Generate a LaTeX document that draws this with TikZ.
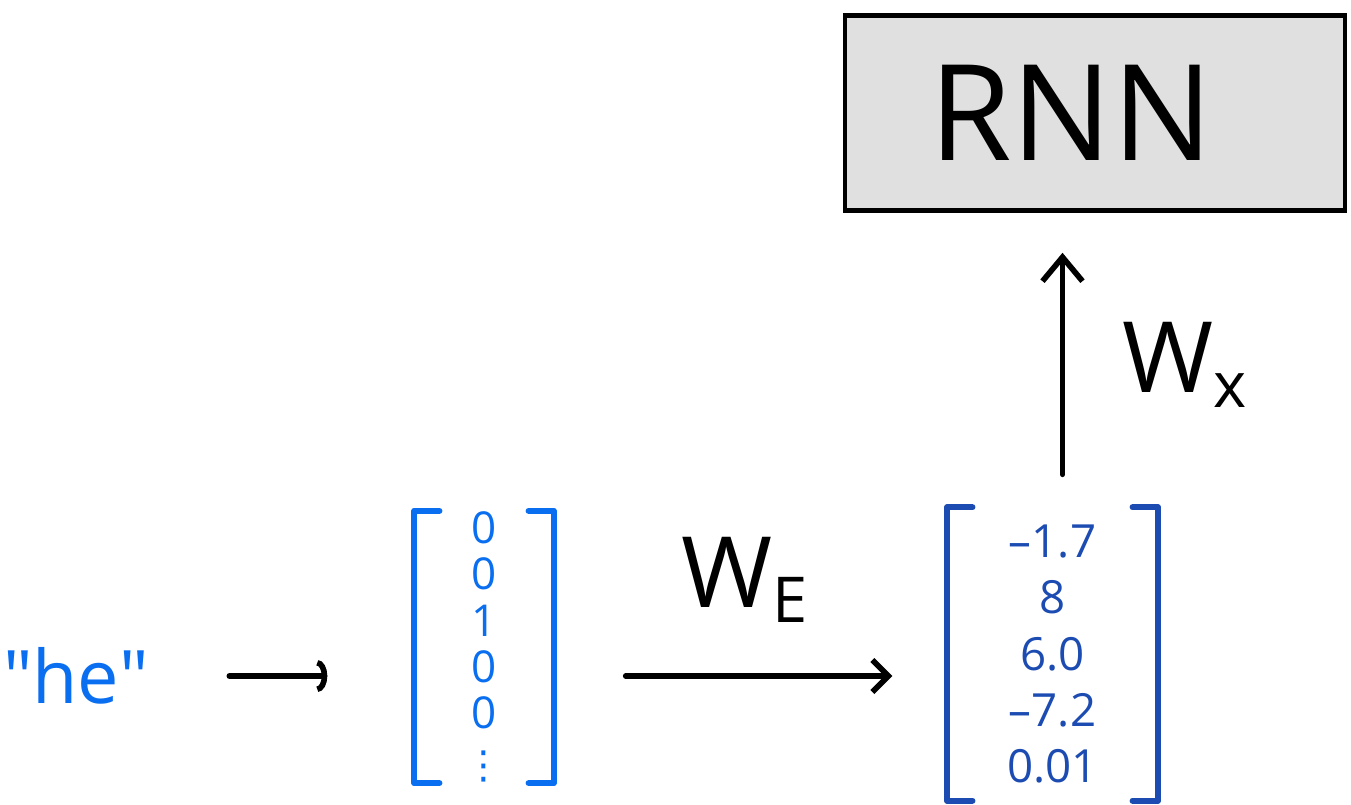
\documentclass[tikz,border=0pt]{standalone}
\usepackage{fontspec}
\setmainfont{Open Sans}
\newfontfamily\dotsfont{DejaVu Sans}
\usetikzlibrary{positioning,arrows.meta,calc}
\definecolor{hotblue}{RGB}{10,110,240}
\definecolor{embblue}{RGB}{28,76,178}
\definecolor{boxgray}{RGB}{224,224,224}

% square brackets drawn round a vector node
\newcommand{\vbrackets}[2]{%
  \draw[brack,#2] ([xshift=2.5mm]#1.north west) -- (#1.north west) -- (#1.south west) -- ([xshift=2.5mm]#1.south west);
  \draw[brack,#2] ([xshift=-2.5mm]#1.north east) -- (#1.north east) -- (#1.south east) -- ([xshift=-2.5mm]#1.south east);}

\begin{document}
\begin{tikzpicture}[
          word/.style={text=hotblue, font=\fontsize{21}{26}\selectfont},
          onehot/.style={text=hotblue, align=center, inner sep=0pt, minimum width=1.38cm, minimum height=2.71cm, font=\fontsize{12.5}{13.2}\selectfont},
          embed/.style={text=embblue, align=center, inner sep=0pt, minimum width=2.09cm, minimum height=2.92cm, font=\fontsize{13}{16}\selectfont},
          brack/.style={line width=1.8pt, line cap=round, line join=round},
          link/.style={line width=1.6pt, line cap=round},
          rnnbox/.style={draw, line width=1.3pt, fill=boxgray, minimum width=5cm, minimum height=1.95cm, font=\fontsize{38}{42}\selectfont},
          wlabel/.style={font=\fontsize{28}{32}\selectfont}
      ]
        \useasboundingbox (0,0) rectangle (13.51,8.04);

        \node[word] (he) at (0.76,1.28) {\textquotedbl he\textquotedbl};

        \node[onehot] (vone) at (4.84,1.57) {0\\0\\1\\0\\0\\[1pt]{\dotsfont\fontsize{11}{11}\selectfont ⋮}};
        \node[embed] (vtwo) at (10.525,1.50) {--1.7\\8\\6.0\\--7.2\\0.01};

        \node[rnnbox] (rnn) at (10.95,6.91) {RNN\hspace*{4.8mm}};

        \vbrackets{vone}{hotblue}
        \vbrackets{vtwo}{embblue}

        \draw[link, -{Arc Barb[length=1mm, width=3.2mm]}, shorten <=0.68cm, shorten >=0.87cm] (he.east) -- (he.east -| vone.west);
        \draw[link, -{Straight Barb[length=1.6mm, width=3.2mm]}, shorten <=0.72cm, shorten >=0.55cm] (vone.east |- he.east) -- (vtwo.west |- he.east);
        \draw[link, -{Straight Barb[length=2.4mm, width=4mm]}, shorten <=0.33cm, shorten >=0.4cm] ([xshift=1mm]vtwo.north) -- ([xshift=1mm]vtwo.north |- rnn.south);

        \node[wlabel] (we) at (7.45,2.24) {W\raisebox{-1.5mm}{\fontsize{18}{20}\selectfont E}};
        \node[wlabel, anchor=west] (wx) at (11.1,4.39) {W\raisebox{-1.5mm}{\fontsize{18}{20}\selectfont x}};
      \end{tikzpicture}
\end{document}
